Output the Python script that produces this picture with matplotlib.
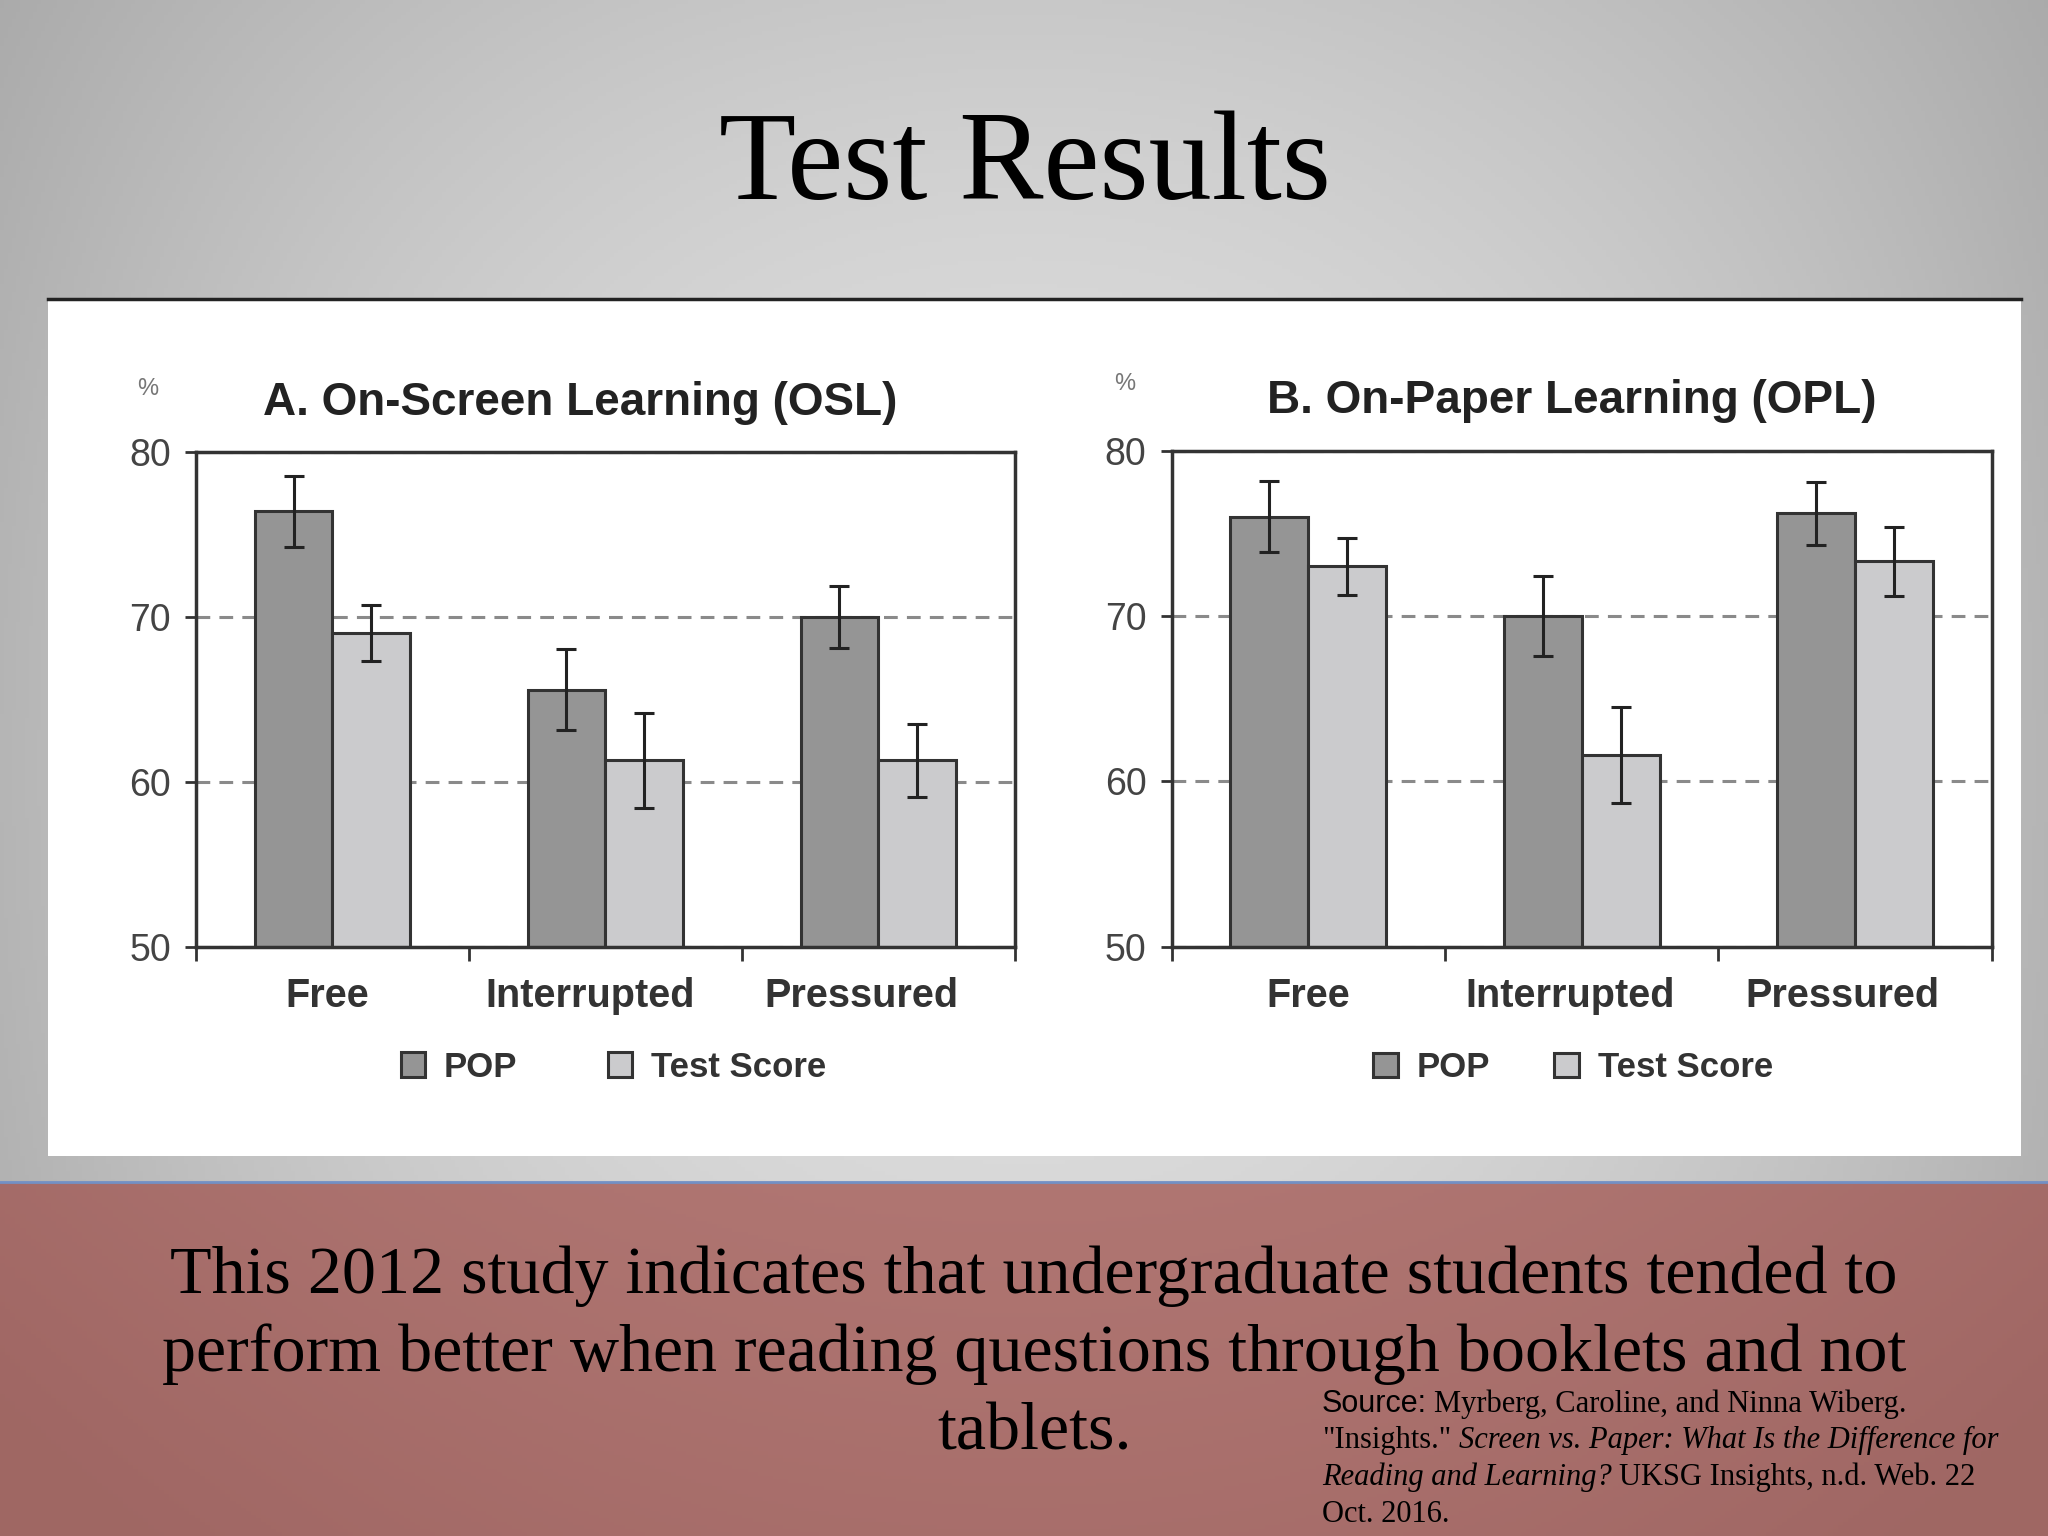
import numpy as np
import matplotlib
matplotlib.use("Agg")
import matplotlib.pyplot as plt
from matplotlib.patches import Rectangle, Patch

# ---------------- data ----------------
categories = ["Free", "Interrupted", "Pressured"]
series_names = ["POP", "Test Score"]

osl_pop = [76.4, 65.6, 70.0]
osl_pop_err = [2.15, 2.45, 1.9]
osl_test = [69.0, 61.3, 61.3]
osl_test_err = [1.7, 2.9, 2.2]

opl_pop = [76.0, 70.0, 76.2]
opl_pop_err = [2.15, 2.4, 1.9]
opl_test = [73.0, 61.6, 73.3]
opl_test_err = [1.7, 2.9, 2.1]

y_ticks = [50, 60, 70, 80]
panel_titles = ["A. On-Screen Learning (OSL)", "B. On-Paper Learning (OPL)"]
slide_title = "Test Results"
body_lines = [
    "This 2012 study indicates that undergraduate students tended to",
    "perform better when reading questions through booklets and not",
    "tablets.",
]

# ---------------- figure ----------------
W, H = 2048, 1536
fig = plt.figure(figsize=(W / 100, H / 100), dpi=100)

def fx(px):  # reference x (1568 wide) to figure fraction
    return px / 1568.0

def fy(py):  # reference y (1176 tall) to figure fraction
    return 1 - py / 1176.0

# background gradient
bg = fig.add_axes([0, 0, 1, 1], zorder=-10)
bg.set_axis_off()
yy, xx = np.mgrid[0:1:400j, 0:1:500j]
dx2 = ((xx - 0.5) / 0.5) ** 2
dy2 = ((yy - 0.5) / 0.5) ** 2
val = 0.875 - 0.165 * dx2 - 0.09 * dy2 + 0.05 * dx2 * dy2
val = np.clip(val, 0, 1)
img = np.dstack([val, val, val])
bg.imshow(img, extent=(0, 1, 0, 1), origin="upper", aspect="auto")

# white panel
bg.add_patch(Rectangle((fx(37), fy(885)), fx(1547) - fx(37), fy(229) - fy(885),
                       facecolor="white", edgecolor="none", zorder=2))
bg.plot([fx(37), fx(1547)], [fy(229), fy(229)], color="#222222", lw=2.5, zorder=3)

# red box with subtle gradient
ry, rx = np.mgrid[0:1:100j, 0:1:400j]
base = np.array([0.627, 0.404, 0.392])
light = np.array([0.690, 0.462, 0.447])
t = np.clip(1 - ((rx - 0.5) / 0.6) ** 2 - 0.5 * ry, 0, 1)[..., None]
redimg = base + (light - base) * t
bg.imshow(redimg, extent=(0, 1, 0, fy(905)), origin="upper", aspect="auto", zorder=2)
bg.plot([0, 1], [fy(905), fy(905)], color="#7390c4", lw=2, zorder=3)
bg.set_xlim(0, 1)
bg.set_ylim(0, 1)

# title
fig.text(0.5006, fy(152), slide_title, ha="center", va="baseline",
         fontsize=91, family="Liberation Serif", color="black")

# body text
for line, by in zip(body_lines, [990, 1050, 1110]):
    fig.text(0.505, fy(by), line, ha="center", va="baseline",
             fontsize=49, family="Liberation Serif", color="black")

# ---------------- charts ----------------
pop_color = "#959595"
test_color = "#cbcbcd"
edge = "#333333"
bw = 0.285

def draw_panel(rect, pop, pop_err, test, test_err, title, title_x, pct_x, pct_y,
               leg_x, colspace, label_shift):
    ax = fig.add_axes(rect)
    ax.set_facecolor("white")
    x = np.arange(len(categories))
    ekw = dict(ecolor="#222222", elinewidth=2.2, capthick=2.2)
    ax.bar(x - bw / 2, pop, bw, yerr=pop_err, color=pop_color, edgecolor=edge,
           linewidth=2.2, capsize=7, error_kw=ekw, zorder=3, label=series_names[0])
    ax.bar(x + bw / 2, test, bw, yerr=test_err, color=test_color, edgecolor=edge,
           linewidth=2.2, capsize=7, error_kw=ekw, zorder=3, label=series_names[1])
    ax.set_xlim(-0.5, len(categories) - 0.5)
    ax.set_ylim(y_ticks[0], y_ticks[-1])
    ax.set_yticks(y_ticks)
    ax.set_yticklabels([str(v) for v in y_ticks], fontsize=27, color="#444444",
                       family="Liberation Sans")
    ax.tick_params(axis="y", length=8, width=2, color=edge, pad=10)
    # category labels (invisible major ticks, slightly nudged like the original)
    ax.set_xticks(x + np.array(label_shift))
    ax.set_xticklabels(categories, fontsize=28.5, fontweight="bold", color="#333333",
                       family="Liberation Sans")
    ax.set_xticks(np.arange(len(categories) + 1) - 0.5, minor=True)
    ax.tick_params(axis="x", which="major", length=0, pad=22)
    ax.tick_params(axis="x", which="minor", length=10, width=2, color=edge)
    ax.yaxis.grid(True, color="#8a8a8a", linewidth=2.2, linestyle=(0, (4.5, 3)))
    ax.set_axisbelow(True)
    for s in ax.spines.values():
        s.set_color(edge)
        s.set_linewidth(2.5)
        s.set_zorder(4)
    ax.text(title_x, 1.099, title, transform=ax.transAxes, ha="center", va="center",
            fontsize=33, fontweight="bold", color="#222222", family="Liberation Sans")
    ax.text(pct_x, pct_y, "%", transform=ax.transAxes, ha="center", va="center",
            fontsize=17, color="#777777", family="Liberation Sans")
    handles = [Patch(facecolor=pop_color, edgecolor=edge, linewidth=2.2),
               Patch(facecolor=test_color, edgecolor=edge, linewidth=2.2)]
    leg = ax.legend(handles, series_names, loc="center", bbox_to_anchor=(leg_x, -0.2426),
                    ncol=2, frameon=False, handlelength=0.7, handleheight=0.7,
                    handletextpad=0.55, columnspacing=colspace,
                    prop=dict(family="Liberation Sans", weight="bold", size=25))
    for txt in leg.get_texts():
        txt.set_color("#333333")
    return ax

axA = draw_panel([fx(150), fy(725), fx(777) - fx(150), fy(346) - fy(725)],
                 osl_pop, osl_pop_err, osl_test, osl_test_err,
                 panel_titles[0], 0.469, -0.059, 1.127, 0.51, 2.6,
                 [-0.019, -0.057, -0.062])
axB = draw_panel([fx(897), fy(725), fx(1525) - fx(897), fy(345) - fy(725)],
                 opl_pop, opl_pop_err, opl_test, opl_test_err,
                 panel_titles[1], 0.488, -0.057, 1.134, 0.4896, 1.85,
                 [0.0, -0.043, -0.048])

# ---------------- source text with mixed styles ----------------
renderer = fig.canvas.get_renderer()
src_size = 22

def width_of(s, style, family):
    tt = fig.text(0, 0, s, fontsize=src_size, style=style, family=family)
    w = tt.get_window_extent(renderer=renderer).width
    tt.remove()
    return w

space_w = width_of("x x", "normal", "Liberation Serif") - width_of("xx", "normal", "Liberation Serif")

source_lines = [
    [("Source:", "normal", "Liberation Sans"), (" Myrberg, Caroline, and Ninna Wiberg.", "normal", "Liberation Serif")],
    [('"Insights."', "normal", "Liberation Serif"), (" Screen vs. Paper: What Is the Difference for", "italic", "Liberation Serif")],
    [("Reading and Learning?", "italic", "Liberation Serif"), (" UKSG Insights, n.d. Web. 22", "normal", "Liberation Serif")],
    [("Oct. 2016.", "normal", "Liberation Serif")],
]
for pieces, by in zip(source_lines, [1081, 1109, 1137, 1165]):
    xpix = fx(1012) * W
    for s, style, fam in pieces:
        if s.startswith(" "):
            xpix += space_w
        s2 = s.lstrip(" ")
        tt = fig.text(xpix / W, fy(by), s2, fontsize=src_size, style=style, family=fam,
                      ha="left", va="baseline", color="black")
        xpix = tt.get_window_extent(renderer=renderer).x1

fig.savefig("out.png", dpi=100)
